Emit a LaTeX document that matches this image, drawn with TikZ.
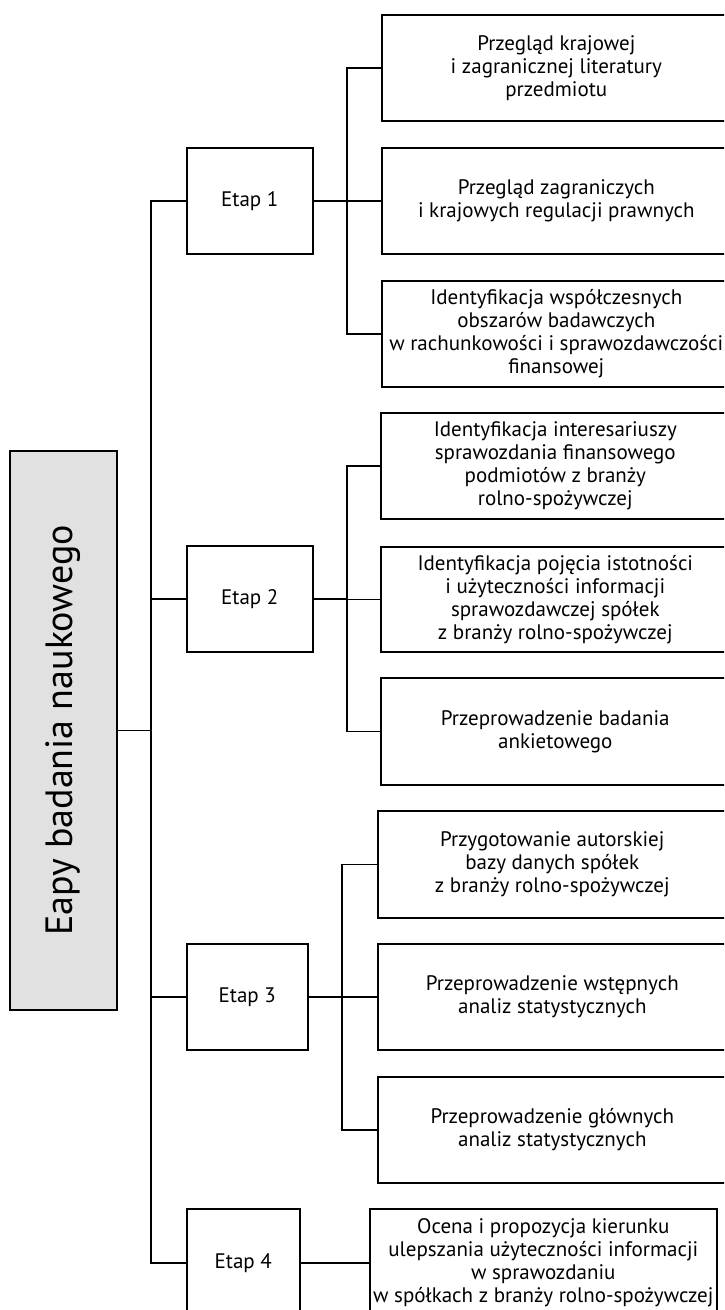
\documentclass[tikz,border=0pt]{standalone}
\usepackage{fontspec}
\setmainfont{PT Sans}
\definecolor{maingray}{HTML}{E1E1E1}
\begin{document}
\begin{tikzpicture}[x=1pt,y=1pt,
  lnk/.style={line width=1.5pt, line cap=rect},
  stagebox/.style={draw, line width=1.6pt, anchor=north west, inner sep=0pt, align=center,
     font=\fontsize{21}{23}\selectfont, minimum height=106},
  taskbox/.style={stagebox, minimum width=349}]
\clip (0,0) rectangle (724,-1310);
\fill[white] (0,0) rectangle (724,-1310);

\node[draw, line width=1.6pt, fill=maingray, rotate=90, minimum width=559, minimum height=107,
      inner sep=0pt, font=\fontsize{38}{40}\selectfont] (main) at (63.5,-730.5) {Eapy badania naukowego};

\node[stagebox, minimum width=126] (e1) at (186,-147) {Etap 1};
\node[stagebox, minimum width=126] (e2) at (186,-545) {Etap 2};
\node[stagebox, minimum width=121] (e3) at (186,-943) {Etap 3};
\node[stagebox, minimum width=113, minimum height=108] (e4) at (186,-1208) {Etap 4};

\node[taskbox] (c1) at (381,-14) {Przegląd krajowej\\i zagranicznej literatury\\przedmiotu};
\node[taskbox] (c2) at (381,-147) {Przegląd zagraniczych\\i krajowych regulacji prawnych};
\node[taskbox] (c3) at (381,-280) {Identyfikacja współczesnych\\obszarów badawczych\\w rachunkowości i sprawozdawczości\\finansowej};
\node[taskbox] (c4) at (380,-412) {Identyfikacja interesariuszy\\sprawozdania finansowego\\podmiotów z branży\\rolno-spożywczej};
\node[taskbox, minimum height=105] (c5) at (380,-546) {Identyfikacja pojęcia istotności\\i użyteczności informacji\\sprawozdawczej spółek\\z branży rolno-spożywczej};
\node[taskbox, minimum height=107] (c6) at (380,-677) {Przeprowadzenie badania\\ankietowego};
\node[taskbox, minimum height=107] (c7) at (377,-810) {Przygotowanie autorskiej\\bazy danych spółek\\z branży rolno-spożywczej};
\node[taskbox] (c8) at (377,-943) {Przeprowadzenie wstępnych\\analiz statystycznych};
\node[taskbox] (c9) at (377,-1076) {Przeprowadzenie głównych\\analiz statystycznych};
\node[taskbox, minimum width=347, minimum height=108] (c10) at (369,-1208) {Ocena i propozycja kierunku\\ulepszania użyteczności informacji\\w sprawozdaniu\\w spółkach z branży rolno-spożywczej};

% main trunk
\coordinate (tr) at (151,0);
\draw[lnk] (e1.west -| tr) -- (e4.west -| tr);
\draw[lnk] (main.south) -- (main.south -| tr);
\foreach \e in {e1,e2,e3,e4} \draw[lnk] (\e.west -| tr) -- (\e.west);

% sub trunks
\coordinate (s1) at (347,0);
\coordinate (s2) at (347,0);
\coordinate (s3) at (342,0);
\draw[lnk] (e1.east) -- (e1.east -| s1);
\draw[lnk] (c1.west -| s1) -- (c3.west -| s1);
\foreach \c in {c1,c2,c3} \draw[lnk] (\c.west -| s1) -- (\c.west);
\draw[lnk] (e2.east) -- (e2.east -| s2);
\draw[lnk] (c4.west -| s2) -- (c6.west -| s2);
\foreach \c in {c4,c5,c6} \draw[lnk] (\c.west -| s2) -- (\c.west);
\draw[lnk] (e3.east) -- (e3.east -| s3);
\draw[lnk] (c7.west -| s3) -- (c9.west -| s3);
\foreach \c in {c7,c8,c9} \draw[lnk] (\c.west -| s3) -- (\c.west);
\draw[lnk] (e4.east) -- (c10.west);
\end{tikzpicture}
\end{document}
